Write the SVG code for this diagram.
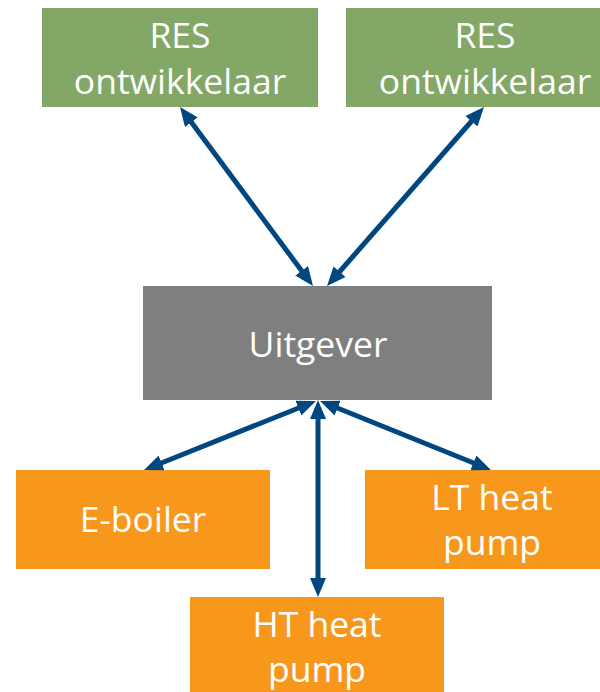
<svg xmlns="http://www.w3.org/2000/svg" width="600" height="692" viewBox="0 0 600 692">
  <style>
    .lbl { font-family: "Open Sans", "Noto Sans", "Liberation Sans", sans-serif; font-size: 35.5px; fill: #ffffff; text-anchor: middle; }
    .green { fill: #82A766; }
    .gray { fill: #7F7F7F; }
    .orange { fill: #F7981D; }
    .conn { stroke: #00477F; stroke-width: 5; fill: none; marker-start: url(#arr); marker-end: url(#arr); }
  </style>
  <defs>
    <marker id="arr" viewBox="0 0 19 16" refX="9" refY="8" markerWidth="19" markerHeight="16" markerUnits="userSpaceOnUse" orient="auto-start-reverse">
      <path d="M0,0 L19,8 L0,16 z" fill="#00477F"/>
    </marker>
  </defs>
  <rect width="600" height="692" fill="#ffffff"/>
  <g id="res1">
    <rect class="green" x="42" y="8" width="276" height="99"/>
    <text class="lbl" x="180" y="48">RES</text>
    <text class="lbl" x="180" y="94">ontwikkelaar</text>
  </g>
  <g id="res2">
    <rect class="green" x="346" y="8" width="276" height="99"/>
    <text class="lbl" x="485" y="48">RES</text>
    <text class="lbl" x="485" y="94">ontwikkelaar</text>
  </g>
  <g id="uitgever">
    <rect class="gray" x="143" y="286" width="349" height="114"/>
    <text class="lbl" x="318" y="357">Uitgever</text>
  </g>
  <g id="eboiler">
    <rect class="orange" x="16" y="470" width="254" height="99"/>
    <text class="lbl" x="143" y="532">E-boiler</text>
  </g>
  <g id="lt">
    <rect class="orange" x="365" y="470" width="254" height="99"/>
    <text class="lbl" x="492" y="510">LT heat</text>
    <text class="lbl" x="492" y="555">pump</text>
  </g>
  <g id="ht">
    <rect class="orange" x="190" y="597" width="254" height="100"/>
    <text class="lbl" x="317" y="637">HT heat</text>
    <text class="lbl" x="317" y="682">pump</text>
  </g>
  <g id="connectors">
    <line class="conn" x1="186" y1="115" x2="307" y2="278"/>
    <line class="conn" x1="477.4" y1="114.5" x2="333.6" y2="278.5"/>
    <line class="conn" x1="306.7" y1="404.7" x2="153.3" y2="466.3"/>
    <line class="conn" x1="318" y1="410" x2="318" y2="587"/>
    <line class="conn" x1="329.3" y1="404.7" x2="481.7" y2="466.3"/>
  </g>
</svg>
